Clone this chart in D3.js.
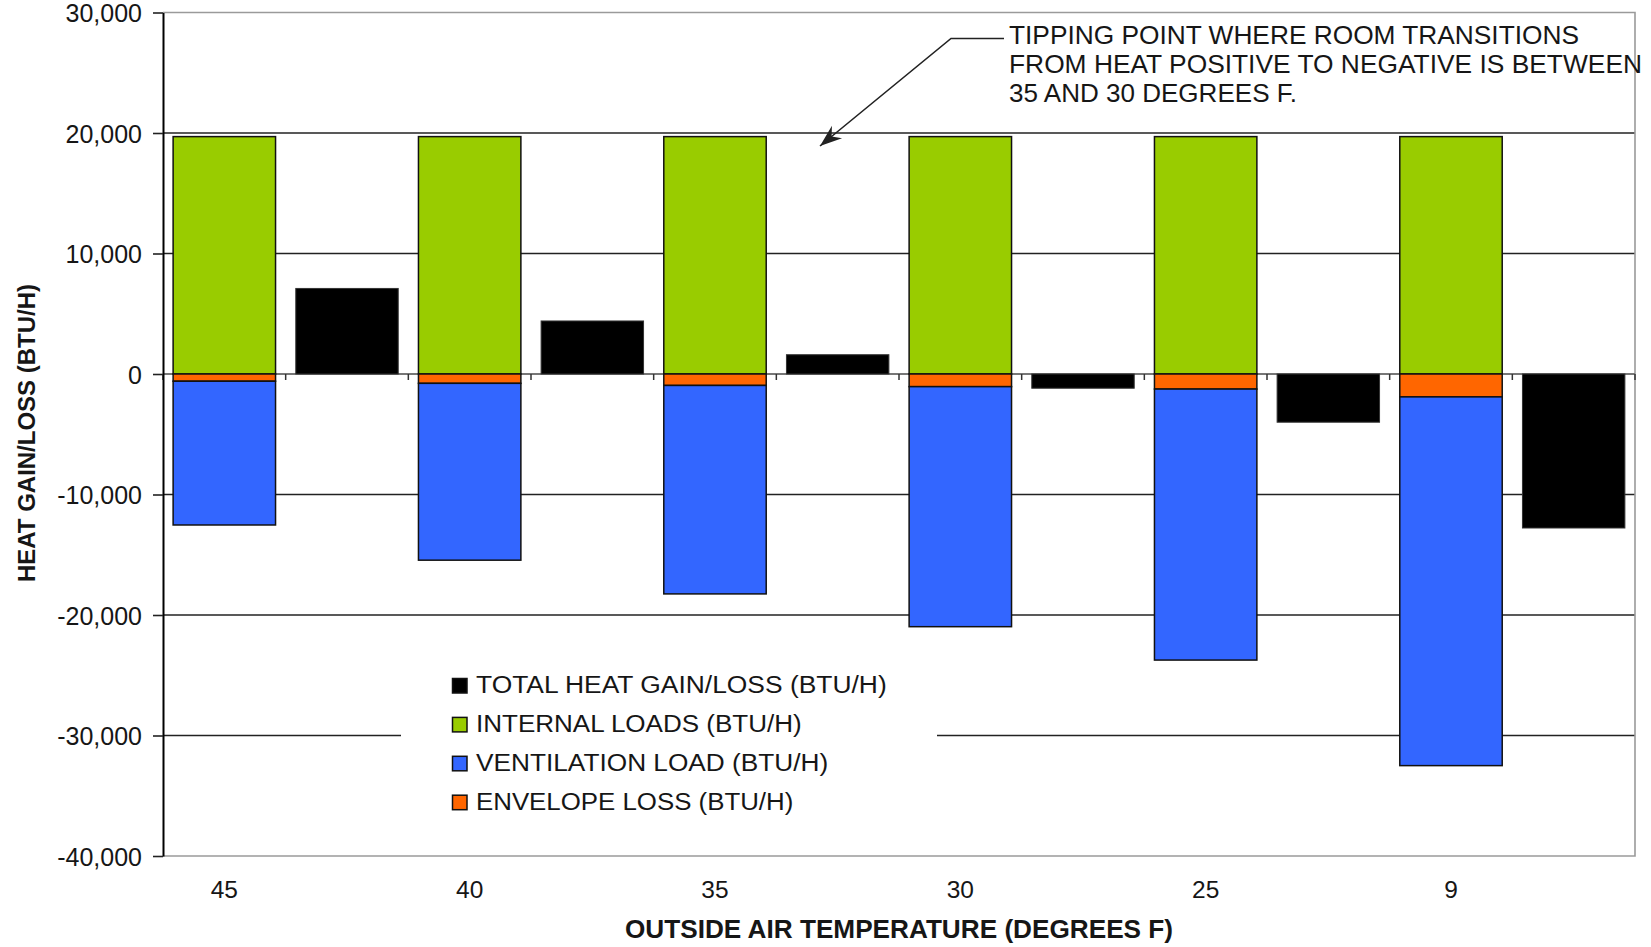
<!DOCTYPE html>
<html><head><meta charset="utf-8">
<script src="https://cdn.jsdelivr.net/npm/d3@7"></script>
<style>
body{margin:0;background:#fff}
svg{display:block}
text{font-family:"Liberation Sans", Arial, Helvetica, sans-serif; fill:#161616}
</style>
</head><body>
<svg id="c" width="1651" height="947"></svg>
<script>
// ---- data ----
const temps = ["45", "40", "35", "30", "25", "9"];
const internalLoads   = [19700, 19700, 19700, 19700, 19700, 19700];
const envelopeLoss    = [-600, -775, -950, -1050, -1250, -1900];
const ventilationLoad = [-11930, -14675, -17300, -19920, -22490, -30600];
const totalHeat       = [7100, 4400, 1600, -1180, -4000, -12780];
const yTicks = [-40000, -30000, -20000, -10000, 0, 10000, 20000, 30000];
const legendNames = ["TOTAL HEAT GAIN/LOSS (BTU/H)", "INTERNAL LOADS (BTU/H)", "VENTILATION LOAD (BTU/H)", "ENVELOPE LOSS (BTU/H)"];
const legendKeys = ["total", "internal", "ventilation", "envelope"];
const annotationLines = ["TIPPING POINT WHERE ROOM TRANSITIONS", "FROM HEAT POSITIVE TO NEGATIVE IS BETWEEN", "35 AND 30 DEGREES F."];
const xTitle = "OUTSIDE AIR TEMPERATURE (DEGREES F)";
const yTitle = "HEAT GAIN/LOSS (BTU/H)";

// ---- layout / style ----
const colors = {internal: "#99CC00", envelope: "#FF6600", ventilation: "#3366FF", total: "#000000"};
const L = 163, R = 1635, T = 12.5, B = 856;
const svg = d3.select("#c");

const y = d3.scaleLinear().domain([-40000, 30000]).range([B, T]);
const x0 = d3.scaleBand().domain(temps).range([L, R]).padding(0);
const x1 = d3.scaleBand().domain(["stack", "total"]).range([0, x0.bandwidth()])
  .paddingInner(0.165).paddingOuter(0.0825);

// gridlines
svg.append("g").selectAll("line")
  .data(yTicks.filter(v => v > -40000 && v < 30000 && v !== 0))
  .join("line")
  .attr("x1", L).attr("x2", R).attr("y1", d => y(d)).attr("y2", d => y(d))
  .attr("stroke", "#222").attr("stroke-width", 1.7);

// plot border (top, right, bottom)
svg.append("path")
  .attr("d", `M${L},${y(30000)}H${R}V${y(-40000)}H${L}`)
  .attr("fill", "none").attr("stroke", "#9a9a9a").attr("stroke-width", 1.6);

// legend background
svg.append("rect").attr("x", 401).attr("y", 660).attr("width", 536).attr("height", 165).attr("fill", "#fff");

// zero line
svg.append("line").attr("x1", L).attr("x2", R).attr("y1", y(0)).attr("y2", y(0))
  .attr("stroke", "#777").attr("stroke-width", 1.8);

// zero-line ticks at slot boundaries
const bounds = [];
temps.forEach(t => { bounds.push(x0(t)); bounds.push(x0(t) + x1.step()); });
bounds.push(R);
svg.append("g").selectAll("line").data(bounds).join("line")
  .attr("x1", d => d).attr("x2", d => d).attr("y1", y(0)).attr("y2", y(0) + 6)
  .attr("stroke", "#333").attr("stroke-width", 1.5);

// stacked bars
const rows = temps.map((t, i) => ({temp: t, internal: internalLoads[i], envelope: envelopeLoss[i], ventilation: ventilationLoad[i], total: totalHeat[i]}));
const stacked = d3.stack().keys(["internal", "envelope", "ventilation"]).offset(d3.stackOffsetDiverging)(rows);
svg.append("g").selectAll("g").data(stacked).join("g")
  .attr("fill", s => colors[s.key])
  .selectAll("rect").data(s => s).join("rect")
  .attr("x", d => x0(d.data.temp) + x1("stack"))
  .attr("width", x1.bandwidth())
  .attr("y", d => y(Math.max(d[0], d[1])))
  .attr("height", d => Math.abs(y(d[0]) - y(d[1])))
  .attr("stroke", "#111").attr("stroke-width", 1.5);

// total bars
svg.append("g").selectAll("rect").data(rows).join("rect")
  .attr("x", d => x0(d.temp) + x1("total"))
  .attr("width", x1.bandwidth())
  .attr("y", d => y(Math.max(0, d.total)))
  .attr("height", d => Math.abs(y(d.total) - y(0)))
  .attr("fill", colors.total).attr("stroke", "#333").attr("stroke-width", 1);

// y axis
const yAxis = svg.append("g").attr("transform", `translate(${L},0)`)
  .call(d3.axisLeft(y).tickValues(yTicks).tickSize(10).tickPadding(11).tickSizeOuter(0)
    .tickFormat(v => d3.format(",")(v).replace("\u2212", "-")));
yAxis.attr("font-family", null).attr("font-size", null);
yAxis.select(".domain").attr("stroke", "#000").attr("stroke-width", 2);
yAxis.selectAll(".tick line").attr("stroke", "#222").attr("stroke-width", 1.6);
yAxis.selectAll(".tick text").style("font-size", "25px").attr("fill", "#161616").attr("dy", "0.37em");

// category labels
svg.append("g").selectAll("text").data(temps).join("text")
  .attr("x", t => x0(t) + x1("stack") + x1.bandwidth() / 2)
  .attr("y", 898)
  .attr("text-anchor", "middle")
  .style("font-size", "24.5px")
  .text(t => t);

// axis titles
svg.append("text").attr("x", (L + R) / 2).attr("y", 938).attr("text-anchor", "middle")
  .style("font-size", "25px").style("font-weight", "bold")
  .attr("textLength", 548).attr("lengthAdjust", "spacingAndGlyphs")
  .text(xTitle);
svg.append("text").attr("transform", "translate(35,433) rotate(-90)").attr("text-anchor", "middle")
  .style("font-size", "24px").style("font-weight", "bold")
  .attr("textLength", 298).attr("lengthAdjust", "spacingAndGlyphs")
  .text(yTitle);

// legend
const lg = svg.append("g");
const legendWidths = [410.7, 325.7, 352.3, 317.3];
legendKeys.forEach((k, i) => {
  lg.append("rect").attr("x", 452.5).attr("y", 678.5 + i * 38.9).attr("width", 14.5).attr("height", 14.5)
    .attr("fill", colors[k]).attr("stroke", "#111").attr("stroke-width", 1.5);
  lg.append("text").attr("x", 476).attr("y", 693.3 + i * 38.9)
    .style("font-size", "23.5px")
    .attr("textLength", legendWidths[i]).attr("lengthAdjust", "spacingAndGlyphs")
    .text(legendNames[i]);
});

// annotation
const defs = svg.append("defs");
defs.append("marker").attr("id", "arr").attr("markerUnits", "userSpaceOnUse")
  .attr("viewBox", "-24 -10 26 20").attr("markerWidth", 26).attr("markerHeight", 20)
  .attr("refX", 0).attr("refY", 0).attr("orient", "auto")
  .append("path").attr("d", "M0,0 L-22,-8 L-15,0 L-22,8 Z").attr("fill", "#222");
svg.append("path").attr("d", "M1004,38.5 L951,38.5 L820,146")
  .attr("fill", "none").attr("stroke", "#222").attr("stroke-width", 1.6)
  .attr("marker-end", "url(#arr)");
const annWidths = [570, 633, 288];
annotationLines.forEach((s, i) => {
  svg.append("text").attr("x", 1009).attr("y", 43.5 + i * 29)
    .style("font-size", "25px")
    .attr("textLength", annWidths[i]).attr("lengthAdjust", "spacingAndGlyphs")
    .text(s);
});
</script>
</body></html>
